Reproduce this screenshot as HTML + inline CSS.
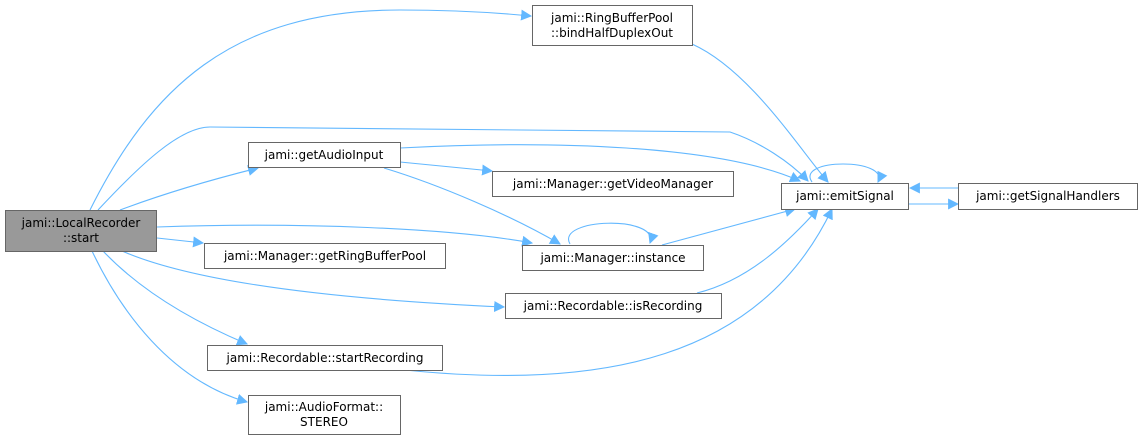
<!DOCTYPE html>
<html><head><meta charset="utf-8"><style>
body{margin:0;background:#fff;width:1141px;height:440px;overflow:hidden}
svg text{font-family:"DejaVu Sans","Liberation Sans",sans-serif;font-size:12px;fill:#000}
</style></head><body>
<svg width="1141" height="440" viewBox="0 0 1141 440" xmlns="http://www.w3.org/2000/svg">
<defs><marker id="a" viewBox="0 0 10 10" refX="9" refY="5" markerWidth="11" markerHeight="11" markerUnits="userSpaceOnUse" orient="auto"><path d="M0,0 L10,5 L0,10 z" fill="#63b8ff"/></marker></defs>
<g fill="none" stroke="#63b8ff" stroke-width="1.1" marker-end="url(#a)">
<path d="M90,210 C150,90 230,10 400,10 C460,10 500,13 531,16"/>
<path d="M98,210 C140,165 180,127 210,127 L730,132 C760,142 790,162 808,181"/>
<path d="M120,210 C160,195 210,180 258,168"/>
<path d="M157,227 C300,222 450,228 532,243"/>
<path d="M157,238 L203,243"/>
<path d="M122,251 C200,285 350,300 504,307"/>
<path d="M103,251 C140,290 190,320 247,344"/>
<path d="M92,251 C120,310 170,380 247,402"/>
<path d="M400,148 C550,140 720,145 800,181"/>
<path d="M400,162 L492,171"/>
<path d="M384,168 C440,185 510,215 560,244"/>
<path d="M570,244 C555,218 660,215 650,243"/>
<path d="M662,245 L795,209"/>
<path d="M697,293 C750,280 790,240 818,209"/>
<path d="M405,370 C600,390 760,360 832,209"/>
<path d="M692,44 C750,70 800,150 828,182"/>
<path d="M812,182 C795,158 890,158 878,182"/>
<path d="M908,204 L958,204"/>
<path d="M958,188 L910,188"/>
</g>
<g stroke="#666" stroke-width="1">
<rect x="5.5" y="210.5" width="151" height="41" fill="#999"/>
<rect x="532.5" y="5.5" width="160" height="40" fill="#fff"/>
<rect x="248.5" y="142.5" width="152" height="25" fill="#fff"/>
<rect x="492.5" y="171.5" width="241" height="25" fill="#fff"/>
<rect x="781.5" y="183.5" width="127" height="26" fill="#fff"/>
<rect x="958.5" y="183.5" width="179" height="26" fill="#fff"/>
<rect x="204.5" y="243.5" width="241" height="25" fill="#fff"/>
<rect x="522.5" y="245.5" width="181" height="25" fill="#fff"/>
<rect x="505.5" y="293.5" width="216" height="25" fill="#fff"/>
<rect x="207.5" y="345.5" width="235" height="25" fill="#fff"/>
<rect x="248.5" y="395.5" width="152" height="39" fill="#fff"/>
</g>
<g text-anchor="middle">
<text x="81" y="227">jami::LocalRecorder</text><text x="81" y="242">::start</text>
<text x="612" y="22">jami::RingBufferPool</text><text x="612" y="37">::bindHalfDuplexOut</text>
<text x="324" y="159">jami::getAudioInput</text>
<text x="613" y="188">jami::Manager::getVideoManager</text>
<text x="845" y="200">jami::emitSignal</text>
<text x="1048" y="200">jami::getSignalHandlers</text>
<text x="325" y="260">jami::Manager::getRingBufferPool</text>
<text x="613" y="262">jami::Manager::instance</text>
<text x="613" y="310">jami::Recordable::isRecording</text>
<text x="325" y="362">jami::Recordable::startRecording</text>
<text x="324" y="411">jami::AudioFormat::</text><text x="324" y="426">STEREO</text>
</g>
</svg>
</body></html>
